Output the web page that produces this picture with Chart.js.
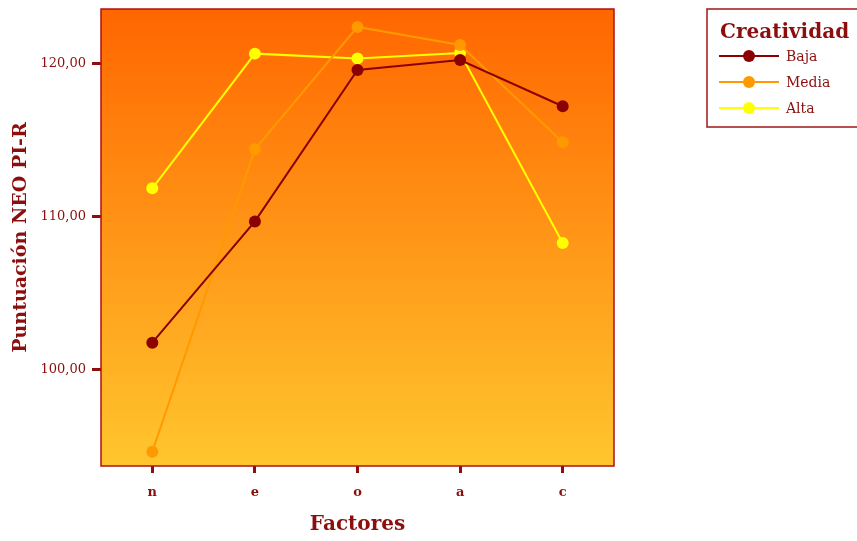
<!DOCTYPE html>
<html>
<head>
<meta charset="utf-8">
<script src="https://cdn.jsdelivr.net/npm/chart.js@4"></script>
<style>
  html, body { margin: 0; padding: 0; background: #fff; }
  #wrap { width: 857px; height: 541px; }
</style>
</head>
<body>
<div id="wrap"><canvas id="chart" width="857" height="541"></canvas></div>
<script>
// categories (factores) and the three creativity groups
const factores = ["n", "e", "o", "a", "c"];
const baja  = [101.78, 109.69, 119.56, 120.21, 117.20];
const media = [94.67, 114.39, 122.37, 121.19, 114.85];
const alta  = [111.85, 120.63, 120.31, 120.67, 108.28];
const yTicks = [100, 110, 120];
const seriesNames = ["Baja", "Media", "Alta"];

const darkRed = "#8c0f0f";
const colors = ["#8b0000", "#ff9900", "#ffff00"];
const serif = "'DejaVu Serif', serif";

// orange-to-gold gradient behind the plot + frame around it
const plotBackground = {
    id: "plotBackground",
    beforeDatasetsDraw(chart) {
        const { ctx, chartArea: a } = chart;
        const g = ctx.createLinearGradient(0, a.top, 0, a.bottom);
        g.addColorStop(0, "#ff6600");
        g.addColorStop(1, "#ffc62e");
        ctx.save();
        ctx.fillStyle = g;
        ctx.fillRect(a.left, a.top, a.right - a.left, a.bottom - a.top);
        ctx.strokeStyle = "#b01010";
        ctx.lineWidth = 1.5;
        ctx.strokeRect(a.left, a.top, a.right - a.left, a.bottom - a.top);
        ctx.restore();
    },
};

// boxed legend at top right, like the SPSS output
const boxLegend = {
    id: "boxLegend",
    afterDraw(chart) {
        const { ctx } = chart;
        const x = 707, y = 9, w = 160, h = 118;
        ctx.save();
        ctx.strokeStyle = "#a01818";
        ctx.lineWidth = 1.5;
        ctx.strokeRect(x, y, w, h);
        ctx.fillStyle = darkRed;
        ctx.font = "bold 20px " + serif;
        ctx.textBaseline = "middle";
        ctx.fillText("Creatividad", 720, 33);
        chart.data.datasets.forEach((ds, i) => {
            const ly = 56 + i * 26;
            ctx.strokeStyle = ds.borderColor;
            ctx.lineWidth = 2;
            ctx.beginPath();
            ctx.moveTo(719, ly);
            ctx.lineTo(779, ly);
            ctx.stroke();
            ctx.fillStyle = ds.backgroundColor;
            ctx.beginPath();
            ctx.arc(749, ly, 6, 0, Math.PI * 2);
            ctx.fill();
            ctx.fillStyle = darkRed;
            ctx.font = "14px " + serif;
            ctx.fillText(seriesNames[i], 786, ly + 1);
        });
        ctx.restore();
    },
};

const datasets = [baja, media, alta].map((values, i) => ({
    label: seriesNames[i],
    data: values,
    borderColor: colors[i],
    backgroundColor: colors[i],
    borderWidth: 2,
    pointRadius: 6,
    pointHoverRadius: 6,
    pointBorderWidth: 0,
    tension: 0,
}));

new Chart(document.getElementById("chart"), {
    type: "line",
    data: { labels: factores, datasets },
    options: {
        responsive: false,
        animation: false,
        events: [],
        layout: { padding: { top: 9, right: 243, left: 0, bottom: 0 } },
        plugins: {
            legend: { display: false },
            tooltip: { enabled: false },
        },
        scales: {
            x: {
                offset: true,
                grid: {
                    offset: false,
                    drawOnChartArea: false,
                    drawTicks: true,
                    tickLength: 7,
                    tickWidth: 3,
                    tickColor: darkRed,
                },
                border: { display: false },
                ticks: {
                    color: darkRed,
                    padding: 12,
                    font: { family: serif, size: 13, weight: "bold" },
                },
                title: {
                    display: true,
                    text: "Factores",
                    color: darkRed,
                    padding: { top: 14 },
                    font: { family: serif, size: 20, weight: "bold" },
                },
                afterFit(scale) { scale.height = 75; },
            },
            y: {
                min: 93.74,
                max: 123.54,
                afterBuildTicks(scale) {
                    scale.ticks = yTicks.map(v => ({ value: v }));
                },
                grid: {
                    drawOnChartArea: false,
                    drawTicks: true,
                    tickLength: 9,
                    tickWidth: 3,
                    tickColor: darkRed,
                },
                border: { display: false },
                ticks: {
                    color: darkRed,
                    padding: 6,
                    font: { family: serif, size: 13 },
                    callback: v => v.toFixed(2).replace(".", ","),
                },
                title: {
                    display: true,
                    text: "Puntuación NEO PI-R",
                    color: darkRed,
                    padding: { top: 10, bottom: 0 },
                    font: { family: serif, size: 19, weight: "bold" },
                },
                afterFit(scale) {
                    scale.width = 101;
                    // labels are not at the axis ends, so no overflow room needed
                    scale.paddingTop = 0;
                    scale.paddingBottom = 0;
                },
            },
        },
    },
    plugins: [plotBackground, boxLegend],
});
</script>
</body>
</html>
